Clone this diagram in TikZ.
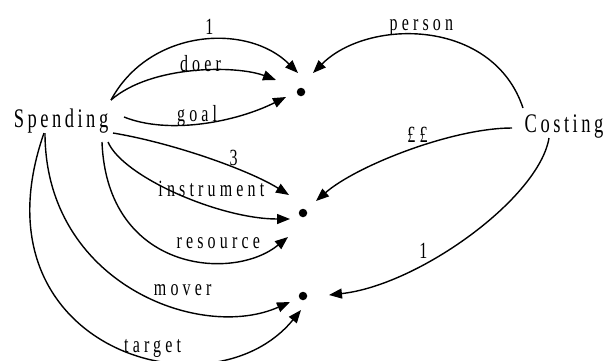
\documentclass[tikz,border=0pt]{standalone}
\usepackage{fontspec}
\setmainfont{Liberation Serif}
\usetikzlibrary{arrows.meta}

\newcommand{\tall}[1]{\scalebox{1}[1.45]{#1}}

\begin{document}
\begin{tikzpicture}[x=1pt, y=-1pt,
  word/.style={inner sep=0pt, font=\fontsize{18.5}{18}\selectfont\addfontfeature{LetterSpace=19}},
  lbl/.style={inner sep=0pt, anchor=base, font=\fontsize{16}{16}\selectfont\addfontfeature{LetterSpace=26}},
  dot/.style={circle, fill=black, inner sep=0pt, minimum size=8.5pt},
  arr/.style={-{Triangle[length=13pt,width=10pt]}, line width=1.4pt}
]
\useasboundingbox (0,0) rectangle (605,360);

% --- frames and slots ---
\node[word] (sp) at (61,121) {\tall{Spending}};
\node[word] (co) at (564,127) {\tall{Costing}};
\node[dot]  (d1) at (301,92)  {};
\node[dot]  (d2) at (303,213) {};
\node[dot]  (d3) at (303,296) {};

% --- Spending to top slot ---
\draw[arr] ([shift={(50,-21)}]sp.center) .. controls +(39,-72) and +(-50,-50) .. ([shift={(-3,-19)}]d1.center)
  node[lbl, pos=0.5, xshift=9pt, yshift=6pt] {\tall{1}};
\draw[arr] ([shift={(50,-21)}]sp.center) .. controls +(40,-35) and +(-40,-15) .. ([shift={(-25,-12)}]d1.center)
  node[lbl, pos=0.5, xshift=7pt, yshift=0pt] {\tall{doer}};
\draw[arr] ([shift={(63,-4)}]sp.center) .. controls +(45,18) and +(-50,25) .. ([shift={(-15,5)}]d1.center)
  node[lbl, pos=0.5, xshift=-6pt, yshift=2pt] {\tall{goal}};

% --- Spending to middle slot ---
\draw[arr] ([shift={(52,12)}]sp.center) .. controls +(60,10) and +(-40,-25) .. ([shift={(-14,-18)}]d2.center)
  node[lbl, pos=0.5, xshift=25pt, yshift=-7pt] {\tall{3}};
\draw[arr] ([shift={(47,21)}]sp.center) .. controls +(15,35) and +(-70,0) .. ([shift={(-13,6)}]d2.center)
  node[lbl, pos=0.5, xshift=33pt, yshift=-3pt] {\tall{instrument}};
\draw[arr] ([shift={(41,21)}]sp.center) .. controls +(5,130) and +(-55,45) .. ([shift={(-15,24)}]d2.center)
  node[lbl, pos=0.5, xshift=42pt, yshift=7pt] {\tall{resource}};

% --- Spending to bottom slot ---
\draw[arr] ([shift={(-16,12)}]sp.center) .. controls +(0,150) and +(-90,40) .. ([shift={(-13,6)}]d3.center)
  node[lbl, pos=0.5, xshift=49pt, yshift=-7pt] {\tall{mover}};
\draw[arr] ([shift={(-17,12)}]sp.center) .. controls +(-75,215) and +(-90,110) .. ([shift={(-2,14)}]d3.center)
  node[lbl, pos=0.5, xshift=42pt, yshift=-9pt] {\tall{target}};

% --- Costing to the slots ---
\draw[arr] ([shift={(-41,-19)}]co.center) .. controls +(-30,-90) and +(55,-55) .. ([shift={(12,-19)}]d1.center)
  node[lbl, pos=0.5, xshift=-6pt, yshift=6pt] {\tall{person}};
\draw[arr] ([shift={(-52,1)}]co.center) .. controls +(-60,0) and +(40,-35) .. ([shift={(13,-12)}]d2.center)
  node[lbl, pos=0.5, xshift=11pt, yshift=9pt] {\tall{££}};
\draw[arr] ([shift={(-15,11)}]co.center) .. controls +(-10,60) and +(90,-10) .. ([shift={(26,-1)}]d3.center)
  node[lbl, pos=0.7, xshift=9pt, yshift=10pt] {\tall{1}};

\end{tikzpicture}
\end{document}
